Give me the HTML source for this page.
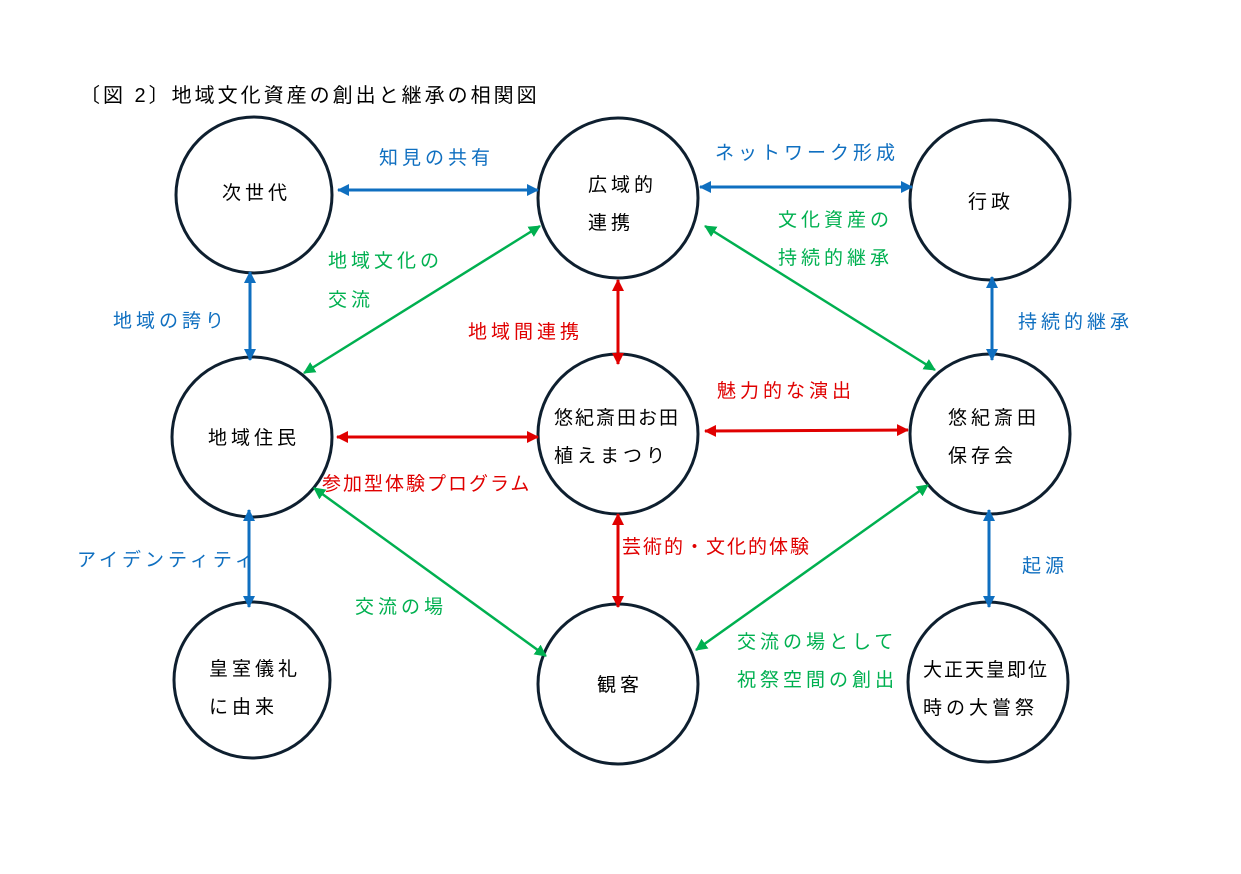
<!DOCTYPE html>
<html><head><meta charset="utf-8"><style>
html,body{margin:0;padding:0;background:#fff;}
svg{display:block;}
text{font-family:"Liberation Sans","Noto Sans CJK JP",sans-serif;font-size:19px;letter-spacing:4px;}
.k{fill:#000;}
.b{fill:#0f6fc0;}
.g{fill:#00b050;}
.r{fill:#e00000;}
</style></head><body>
<svg width="1241" height="874" viewBox="0 0 1241 874" xmlns="http://www.w3.org/2000/svg">
<defs>
<marker id="ab" markerWidth="12" markerHeight="12" refX="11" refY="6" orient="auto-start-reverse" markerUnits="userSpaceOnUse" viewBox="0 0 12 12"><path d="M0,0 L12,6 L0,12 z" fill="#0f6fc0"/></marker>
<marker id="ag" markerWidth="12" markerHeight="12" refX="11" refY="6" orient="auto-start-reverse" markerUnits="userSpaceOnUse" viewBox="0 0 12 12"><path d="M0,0 L12,6 L0,12 z" fill="#00b050"/></marker>
<marker id="ar" markerWidth="12" markerHeight="12" refX="11" refY="6" orient="auto-start-reverse" markerUnits="userSpaceOnUse" viewBox="0 0 12 12"><path d="M0,0 L12,6 L0,12 z" fill="#e00000"/></marker>
</defs>
<text x="80" y="102" class="k" style="font-size:20px;letter-spacing:3px">〔図 2〕地域文化資産の創出と継承の相関図</text>
<g fill="none" stroke="#0e1f2f" stroke-width="3">
<circle cx="254" cy="195" r="78"/>
<circle cx="618" cy="198" r="80"/>
<circle cx="990" cy="200" r="80"/>
<circle cx="252" cy="437" r="80"/>
<circle cx="618" cy="434" r="80"/>
<circle cx="990" cy="434" r="80"/>
<circle cx="252" cy="680" r="78"/>
<circle cx="618" cy="684" r="80"/>
<circle cx="988" cy="682" r="80"/>
</g>
<g stroke-width="3" fill="none">
<line x1="338" y1="190" x2="538" y2="190" stroke="#0f6fc0" marker-start="url(#ab)" marker-end="url(#ab)"/>
<line x1="700" y1="187" x2="912" y2="187" stroke="#0f6fc0" marker-start="url(#ab)" marker-end="url(#ab)"/>
<line x1="250" y1="272" x2="250" y2="360" stroke="#0f6fc0" marker-start="url(#ab)" marker-end="url(#ab)"/>
<line x1="992" y1="277" x2="992" y2="360" stroke="#0f6fc0" marker-start="url(#ab)" marker-end="url(#ab)"/>
<line x1="249" y1="510" x2="249" y2="607" stroke="#0f6fc0" marker-start="url(#ab)" marker-end="url(#ab)"/>
<line x1="989" y1="510" x2="989" y2="607" stroke="#0f6fc0" marker-start="url(#ab)" marker-end="url(#ab)"/>
<line x1="540" y1="226" x2="304" y2="373" stroke="#00b050" stroke-width="2.5" marker-start="url(#ag)" marker-end="url(#ag)"/>
<line x1="705" y1="226" x2="935" y2="370" stroke="#00b050" stroke-width="2.5" marker-start="url(#ag)" marker-end="url(#ag)"/>
<line x1="314" y1="488" x2="546" y2="656" stroke="#00b050" stroke-width="2.5" marker-start="url(#ag)" marker-end="url(#ag)"/>
<line x1="928" y1="485" x2="696" y2="650" stroke="#00b050" stroke-width="2.5" marker-start="url(#ag)" marker-end="url(#ag)"/>
<line x1="618" y1="280" x2="618" y2="364" stroke="#e00000" marker-start="url(#ar)" marker-end="url(#ar)"/>
<line x1="337" y1="437" x2="538" y2="437" stroke="#e00000" marker-start="url(#ar)" marker-end="url(#ar)"/>
<line x1="705" y1="431" x2="908" y2="430" stroke="#e00000" marker-start="url(#ar)" marker-end="url(#ar)"/>
<line x1="618" y1="514" x2="618" y2="607" stroke="#e00000" marker-start="url(#ar)" marker-end="url(#ar)"/>
</g>
<text x="222" y="199" class="k">次世代</text>
<text x="588" y="191" class="k">広域的</text>
<text x="588" y="229" class="k">連携</text>
<text x="968" y="208" class="k">行政</text>
<text x="208" y="444" class="k">地域住民</text>
<text x="554" y="424" class="k" style="letter-spacing:2px">悠紀斎田お田</text>
<text x="554" y="462" class="k">植えまつり</text>
<text x="948" y="424" class="k">悠紀斎田</text>
<text x="948" y="462" class="k">保存会</text>
<text x="209" y="675" class="k">皇室儀礼</text>
<text x="209" y="713" class="k">に由来</text>
<text x="597" y="691" class="k">観客</text>
<text x="923" y="676" class="k" style="letter-spacing:2px">大正天皇即位</text>
<text x="923" y="714" class="k">時の大嘗祭</text>
<text x="379" y="164" class="b">知見の共有</text>
<text x="715" y="159" class="b">ネットワーク形成</text>
<text x="113" y="327" class="b">地域の誇り</text>
<text x="1018" y="328" class="b">持続的継承</text>
<text x="77" y="566" class="b">アイデンティティ</text>
<text x="1022" y="572" class="b">起源</text>
<text x="328" y="267" class="g">地域文化の</text>
<text x="328" y="306" class="g">交流</text>
<text x="778" y="226" class="g">文化資産の</text>
<text x="778" y="264" class="g">持続的継承</text>
<text x="355" y="613" class="g">交流の場</text>
<text x="737" y="648" class="g">交流の場として</text>
<text x="737" y="686" class="g">祝祭空間の創出</text>
<text x="468" y="338" class="r">地域間連携</text>
<text x="717" y="397" class="r">魅力的な演出</text>
<text x="322" y="490" class="r" style="letter-spacing:2px">参加型体験プログラム</text>
<text x="622" y="553" class="r" style="letter-spacing:2px">芸術的・文化的体験</text>
</svg>
</body></html>
